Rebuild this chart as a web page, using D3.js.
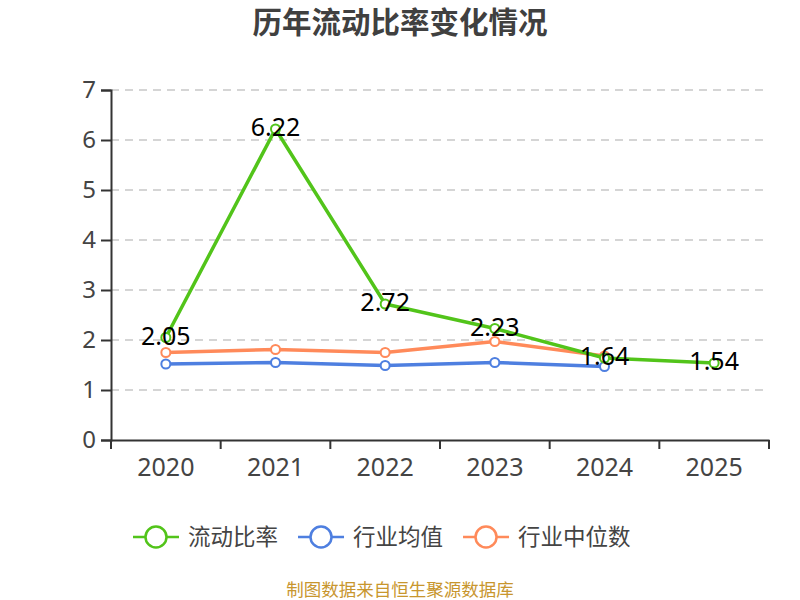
<!DOCTYPE html>
<html><head><meta charset="utf-8">
<script src="https://cdn.jsdelivr.net/npm/d3@7/dist/d3.min.js"></script>
<style>body{margin:0;background:#fff}svg{display:block}</style>
</head><body>
<svg id="c" width="800" height="600"></svg>
<script>
const years = ["2020","2021","2022","2023","2024","2025"];
const ratio = [2.05, 6.22, 2.72, 2.23, 1.64, 1.54];
const industryMean = [1.52, 1.55, 1.49, 1.55, 1.47];
const industryMedian = [1.75, 1.81, 1.75, 1.97, 1.68];
const yTicks = [0,1,2,3,4,5,6,7];
const seriesNames = ["流动比率","行业均值","行业中位数"];
const colors = ["#52c41a","#4e7fe0","#ff8a5a"];

const svg = d3.select("#c");
const font = "'Noto Sans','Noto Sans CJK SC',sans-serif";
const m = {l:111, r:769, t:90, b:440};
const x = d3.scaleBand().domain(years).range([m.l, m.r]);
const y = d3.scaleLinear().domain([0,7]).range([m.b, m.t]);

// title
svg.append("text").attr("x",400).attr("y",33).attr("text-anchor","middle")
  .attr("font-family","'Noto Sans CJK SC',sans-serif").attr("font-weight","bold")
  .attr("font-size",29.5).attr("fill","#404040").text("历年流动比率变化情况");

// grid
svg.append("g").selectAll("line").data(yTicks.filter(d=>d>0)).join("line")
  .attr("x1",m.l).attr("x2",m.r).attr("y1",d=>y(d)).attr("y2",d=>y(d))
  .attr("stroke","#c8c8c8").attr("stroke-width",1.5).attr("stroke-dasharray","8,6");

// y axis
const ya = svg.append("g").attr("transform",`translate(${m.l},0)`)
  .call(d3.axisLeft(y).tickValues(yTicks).tickSize(10).tickPadding(5).tickFormat(d3.format("d")));
ya.select(".domain").attr("stroke","#333").attr("stroke-width",2);
ya.selectAll(".tick line").attr("stroke","#333").attr("stroke-width",2);
ya.selectAll("text").attr("font-family",font).attr("font-size",24).attr("fill","#444");

// x axis
const xa = svg.append("g").attr("transform",`translate(0,${m.b})`)
  .call(d3.axisBottom(x).tickSize(0).tickPadding(18));
xa.select(".domain").attr("stroke","#333").attr("stroke-width",2);
xa.selectAll("text").attr("font-family",font).attr("font-size",25).attr("fill","#444");
const bounds = years.map(d=>x(d)).concat([m.r]);
svg.append("g").selectAll("line").data(bounds).join("line")
  .attr("x1",d=>d).attr("x2",d=>d).attr("y1",m.b).attr("y2",m.b+9)
  .attr("stroke","#333").attr("stroke-width",2);

const cx = d => x(d) + x.bandwidth()/2;
const line = d3.line().x(d=>cx(d.year)).y(d=>y(d.v));
const all = [ratio, industryMean, industryMedian];
const order = [1,2,0];
order.forEach(i=>{
  const data = all[i].map((v,j)=>({year:years[j], v}));
  svg.append("path").datum(data).attr("d",line).attr("fill","none")
    .attr("stroke",colors[i]).attr("stroke-width",3.5).attr("stroke-linejoin","round");
  svg.append("g").selectAll("circle").data(data).join("circle")
    .attr("cx",d=>cx(d.year)).attr("cy",d=>y(d.v)).attr("r",4.5)
    .attr("fill","#fff").attr("stroke",colors[i]).attr("stroke-width",2);
});
// labels
svg.append("g").selectAll("text").data(ratio.map((v,j)=>({year:years[j],v}))).join("text")
  .attr("x",d=>cx(d.year)).attr("y",d=>y(d.v)+7).attr("text-anchor","middle")
  .attr("font-family",font).attr("font-size",25).attr("fill","#000")
  .text(d=>d3.format(".2f")(d.v));

// legend
const lg = svg.append("g");
let lx = 133; const ly = 537;
seriesNames.forEach((n,i)=>{
  const g = lg.append("g");
  g.append("line").attr("x1",lx).attr("x2",lx+46).attr("y1",ly).attr("y2",ly)
    .attr("stroke",colors[i]).attr("stroke-width",2.5);
  g.append("circle").attr("cx",lx+23).attr("cy",ly).attr("r",10.5)
    .attr("fill","#fff").attr("stroke",colors[i]).attr("stroke-width",2.5);
  const t = g.append("text").attr("x",lx+55).attr("y",ly+8)
    .attr("font-family","'Noto Sans CJK SC',sans-serif").attr("font-size",22.5).attr("fill","#444").text(n);
  lx += 55 + t.node().getComputedTextLength() + 20;
});

// footer
svg.append("text").attr("x",400).attr("y",596).attr("text-anchor","middle")
  .attr("font-family","'Noto Sans CJK SC',sans-serif").attr("font-size",17.5)
  .attr("fill","#c8962e").text("制图数据来自恒生聚源数据库");
</script>
</body></html>
